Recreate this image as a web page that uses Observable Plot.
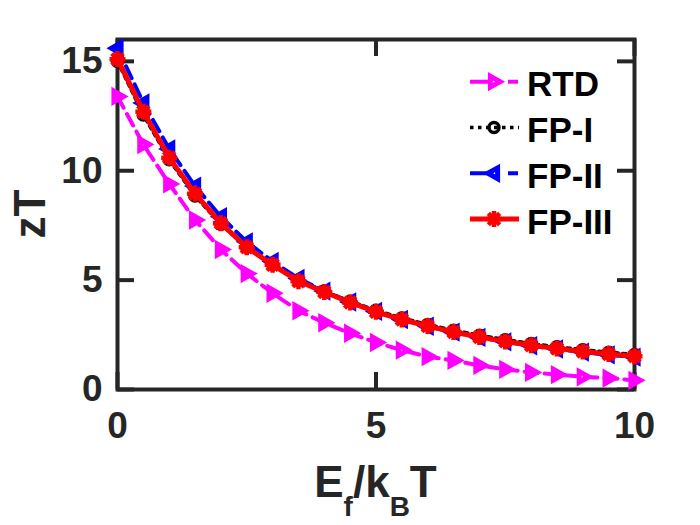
<!DOCTYPE html>
<html>
<head>
<meta charset="utf-8">
<script src="https://cdn.jsdelivr.net/npm/d3@7"></script>
<script src="https://cdn.jsdelivr.net/npm/@observablehq/plot@0.6"></script>
<style>
  html, body { margin: 0; padding: 0; background: #fff; }
  #chart { width: 700px; height: 525px; }
</style>
</head>
<body>
<div id="chart"></div>
<script>
// ---- data ----
const ef = [0, 0.5, 1, 1.5, 2, 2.5, 3, 3.5, 4, 4.5, 5, 5.5, 6, 6.5, 7, 7.5, 8, 8.5, 9, 9.5, 10];
const rtd = [13.4, 11.2, 9.4, 7.75, 6.4, 5.3, 4.4, 3.6, 3.05, 2.57, 2.15, 1.8, 1.5, 1.33, 1.1, 0.92, 0.78, 0.68, 0.58, 0.52, 0.42];
const fp1 = [15.0, 12.55, 10.5, 8.85, 7.55, 6.5, 5.72, 5.0, 4.5, 4.03, 3.62, 3.27, 2.97, 2.71, 2.48, 2.28, 2.1, 1.95, 1.82, 1.7, 1.6];
const fp2 = [15.6, 13.1, 11.0, 9.3, 7.9, 6.75, 5.85, 5.08, 4.5, 4.0, 3.57, 3.2, 2.89, 2.62, 2.38, 2.18, 2.0, 1.85, 1.71, 1.58, 1.48];
const fp3 = [15.1, 12.7, 10.6, 8.95, 7.6, 6.5, 5.7, 4.95, 4.46, 3.98, 3.55, 3.2, 2.9, 2.63, 2.4, 2.2, 2.02, 1.87, 1.74, 1.62, 1.52];
const seriesNames = ["RTD", "FP-I", "FP-II", "FP-III"];
const xTicks = [0, 5, 10];
const yTicks = [0, 5, 10, 15];

// ---- custom marker symbols ----
const triRight = { draw(ctx, size) { const r = Math.sqrt(size / Math.PI);
  ctx.moveTo(r, 0); ctx.lineTo(-r * 0.6, -r * 0.9); ctx.lineTo(-r * 0.6, r * 0.9); ctx.closePath(); } };
const triLeft = { draw(ctx, size) { const r = Math.sqrt(size / Math.PI);
  ctx.moveTo(-r, 0); ctx.lineTo(r * 0.6, -r * 0.9); ctx.lineTo(r * 0.6, r * 0.9); ctx.closePath(); } };
const asterisk = { draw(ctx, size) { const r = Math.sqrt(size / Math.PI); const d = r * Math.SQRT1_2;
  ctx.moveTo(-r, 0); ctx.lineTo(r, 0); ctx.moveTo(0, -r); ctx.lineTo(0, r);
  ctx.moveTo(-d, -d); ctx.lineTo(d, d); ctx.moveTo(-d, d); ctx.lineTo(d, -d); } };
const circle = { draw(ctx, size) { const r = Math.sqrt(size / Math.PI); ctx.moveTo(r, 0); ctx.arc(0, 0, r, 0, 2 * Math.PI); } };

const styles = [
  { values: rtd, color: "#FF00FF", width: 4, dash: "13,7", legendDash: "22,16,10", symbol: triRight, r: 6, mw: 5 },
  { values: fp1, color: "#000000", width: 3.5, dash: "3.5,4.5", legendDash: "3.5,4.5", symbol: circle, r: 5, mw: 3.5 },
  { values: fp2, color: "#0000FF", width: 4, dash: "13,7", legendDash: "22,16,10", symbol: triLeft, r: 6, mw: 5 },
  { values: fp3, color: "#FF0000", width: 5, dash: null, legendDash: null, symbol: asterisk, r: 8, mw: 4.5 }
];

const rows = [];
seriesNames.forEach((name, i) => ef.forEach((x, j) => rows.push({ series: name, x, y: styles[i].values[j] })));

const W = 700, H = 525, mL = 117, mR = 66, mT = 39, mB = 136;
const pw = W - mL - mR, ph = H - mT - mB, tl = 17;
const axisColor = "#262626";

const marks = [
  Plot.frame({ stroke: axisColor, strokeWidth: 4 }),
  Plot.tickY(yTicks, { y: d => d, stroke: axisColor, strokeWidth: 4, insetRight: pw - tl }),
  Plot.tickY(yTicks, { y: d => d, stroke: axisColor, strokeWidth: 4, insetLeft: pw - tl }),
  Plot.tickX(xTicks, { x: d => d, stroke: axisColor, strokeWidth: 4, insetTop: ph - tl }),
  Plot.tickX(xTicks, { x: d => d, stroke: axisColor, strokeWidth: 4, insetBottom: ph - tl }),
  Plot.axisX({ ticks: xTicks, tickSize: 0, tickPadding: 22, label: null, fill: axisColor }),
  Plot.axisY({ ticks: yTicks, tickSize: 0, tickPadding: 15, label: null, fill: axisColor })
];
seriesNames.forEach((name, i) => {
  const s = styles[i];
  const data = rows.filter(d => d.series === name);
  marks.push(Plot.line(data, { x: "x", y: "y", stroke: s.color, strokeWidth: s.width,
    strokeDasharray: s.dash || undefined, strokeLinejoin: "round" }));
  marks.push(Plot.dot(data, { x: "x", y: "y", symbol: s.symbol, r: s.r, stroke: s.color,
    strokeWidth: s.mw, fill: "none" }));
});

const chart = Plot.plot({
  width: W, height: H,
  marginLeft: mL, marginRight: mR, marginTop: mT, marginBottom: mB,
  x: { domain: [0, 10] },
  y: { domain: [0, 16] },
  style: { fontFamily: "'Liberation Sans', Arial, sans-serif", fontSize: "37px", fontWeight: "bold",
           background: "#fff", color: axisColor, overflow: "visible" },
  marks
});
document.getElementById("chart").appendChild(chart);

// ---- axis titles with subscripts ----
const svg = d3.select(chart);
const xt = svg.append("text").attr("x", mL + pw / 2).attr("y", 497).attr("text-anchor", "middle")
  .attr("font-size", 44).attr("font-weight", "bold").attr("fill", axisColor);
xt.append("tspan").text("E");
xt.append("tspan").attr("font-size", 28).attr("dy", 19).text("f");
xt.append("tspan").attr("dy", -19).text("/k");
xt.append("tspan").attr("font-size", 28).attr("dy", 19).text("B");
xt.append("tspan").attr("dy", -19).text("T");

svg.append("text").attr("transform", `translate(45,${mT + ph / 2}) rotate(-90)`)
  .attr("text-anchor", "middle").attr("font-size", 44).attr("font-weight", "bold")
  .attr("fill", axisColor).text("zT");

// ---- legend ----
const lg = svg.append("g").attr("text-anchor", "start");
seriesNames.forEach((name, i) => {
  const s = styles[i];
  const yy = 81.7 + i * 45.8;
  lg.append("line").attr("x1", 470).attr("x2", 519).attr("y1", yy).attr("y2", yy)
    .attr("stroke", s.color).attr("stroke-width", s.width)
    .attr("stroke-dasharray", s.legendDash);
  lg.append("path").attr("transform", `translate(494,${yy})`)
    .attr("d", d3.symbol(s.symbol, s.r * s.r * Math.PI)())
    .attr("fill", "none").attr("stroke", s.color).attr("stroke-width", s.mw);
  lg.append("text").attr("x", 527).attr("y", yy + 14.5).attr("text-anchor", "start")
    .attr("font-size", 35).attr("font-weight", "bold").attr("fill", "#000").text(name);
});
</script>
</body>
</html>
